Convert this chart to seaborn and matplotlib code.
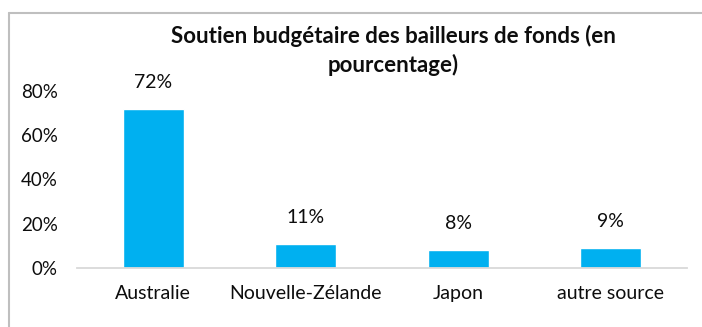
import matplotlib
matplotlib.use("Agg")
import matplotlib.pyplot as plt
import matplotlib.ticker as mticker
from matplotlib.lines import Line2D
import seaborn as sns
import pandas as pd

# Données : part du soutien budgétaire par bailleur
categories = ["Australie", "Nouvelle-Zélande", "Japon", "autre source"]
values = [0.72, 0.11, 0.08, 0.09]
labels = ["72%", "11%", "8%", "9%"]
title = "Soutien budgétaire des bailleurs de fonds (en\npourcentage)"

sns.set_theme(style="white")
plt.rcParams["font.family"] = ["Lato", "DejaVu Sans"]

text_color = "#0d0d0d"
bar_color = "#00B0F0"
axis_color = "#D9D9D9"
frame_color = "#BFBFBF"

fig = plt.figure(figsize=(7.02, 3.27), dpi=100)
ax = fig.add_axes([77 / 702, 59 / 327, 610 / 702, 177 / 327])

df = pd.DataFrame({"source": categories, "part": values})
sns.barplot(data=df, x="source", y="part", color=bar_color, saturation=1,
            width=0.4, ax=ax)

ax.set_ylim(0, 0.8)
ax.set_xlim(-0.5, len(categories) - 0.5)
ax.yaxis.set_major_locator(mticker.MultipleLocator(0.2))
ax.yaxis.set_major_formatter(mticker.PercentFormatter(1.0, decimals=0))
ax.set_xlabel("")
ax.set_ylabel("")

for side in ["top", "right", "left"]:
    ax.spines[side].set_visible(False)
ax.spines["bottom"].set_color(axis_color)
ax.spines["bottom"].set_linewidth(1.3)

ax.tick_params(axis="y", length=0, pad=14, labelsize=13.5, labelcolor=text_color)
ax.tick_params(axis="x", length=0, pad=12, labelsize=14, labelcolor=text_color)

for patch, lab in zip(ax.patches, labels):
    ax.annotate(lab, (patch.get_x() + patch.get_width() / 2, patch.get_height()),
                xytext=(0, 13), textcoords="offset points",
                ha="center", va="bottom", fontsize=14, color=text_color)

fig.text(393 / 702, 0.846, title, ha="center", va="center",
         fontsize=16, fontweight="bold", color=text_color, linespacing=1.35)

# Cadre du graphique
fig.add_artist(Line2D([9 / 702, 1.0], [1 - 13 / 327, 1 - 13 / 327],
                      transform=fig.transFigure, color=frame_color, lw=1.5))
fig.add_artist(Line2D([9 / 702, 9 / 702], [0.0, 1 - 13 / 327],
                      transform=fig.transFigure, color=frame_color, lw=1.5))

fig.savefig("out.png", dpi=100)
